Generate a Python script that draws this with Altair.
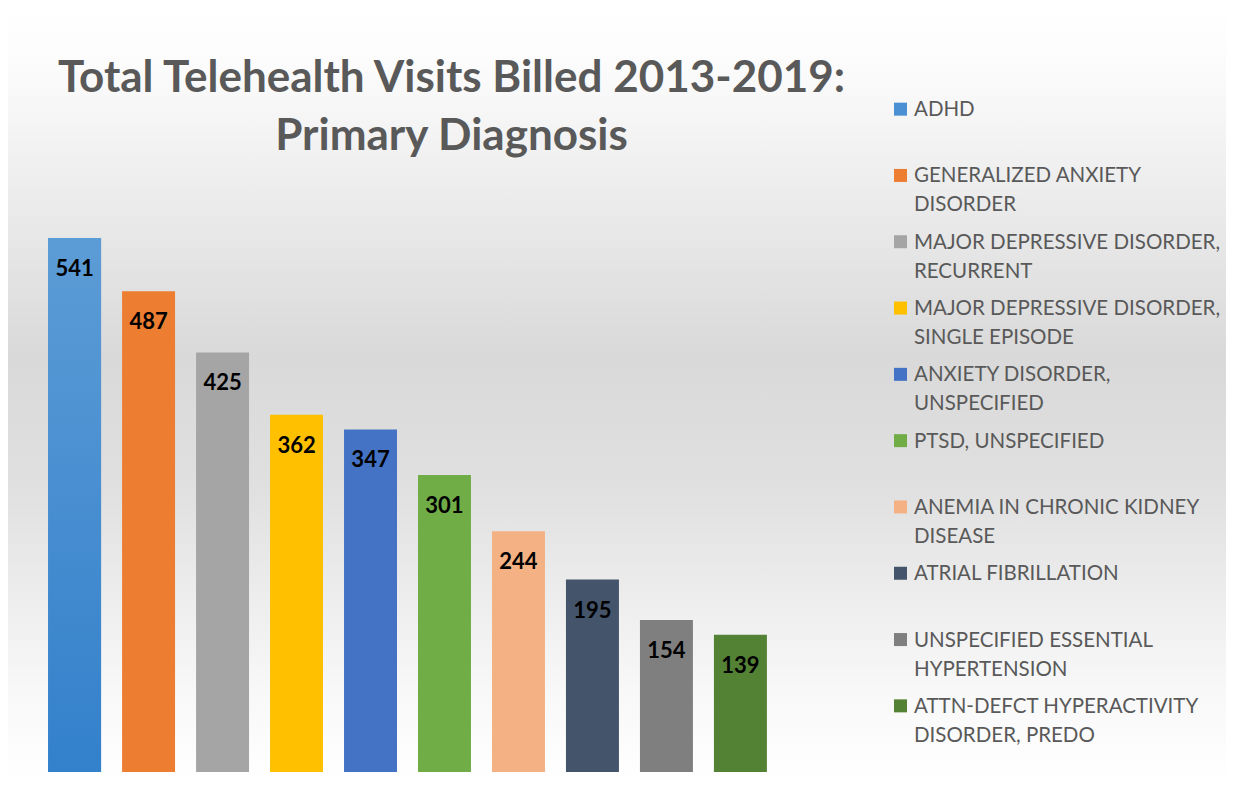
import altair as alt
import pandas as pd

categories = [
    "ADHD",
    "GENERALIZED ANXIETY\nDISORDER",
    "MAJOR DEPRESSIVE DISORDER,\nRECURRENT",
    "MAJOR DEPRESSIVE DISORDER,\nSINGLE EPISODE",
    "ANXIETY DISORDER,\nUNSPECIFIED",
    "PTSD, UNSPECIFIED",
    "ANEMIA IN CHRONIC KIDNEY\nDISEASE",
    "ATRIAL FIBRILLATION",
    "UNSPECIFIED ESSENTIAL\nHYPERTENSION",
    "ATTN-DEFCT HYPERACTIVITY\nDISORDER, PREDO",
]
visits = [541, 487, 425, 362, 347, 301, 244, 195, 154, 139]
colors = ["#4a90d3", "#ed7d31", "#a5a5a5", "#ffc000", "#4472c4",
          "#70ad47", "#f4b183", "#44546a", "#7f7f7f", "#548235"]
title_lines = ["Total Telehealth Visits Billed 2013-2019:", "Primary Diagnosis"]

df = pd.DataFrame({"cat": categories, "visits": visits})
bg = pd.DataFrame({"k": [0]})

grad = alt.LinearGradient(
    gradient="linear", x1=0, x2=0, y1=0, y2=1,
    stops=[
        alt.GradientStop(offset=0.0, color="#ffffff"),
        alt.GradientStop(offset=0.08, color="#fbfbfb"),
        alt.GradientStop(offset=0.45, color="#d9d9d9"),
        alt.GradientStop(offset=0.62, color="#e0e0e0"),
        alt.GradientStop(offset=0.88, color="#f8f8f8"),
        alt.GradientStop(offset=1.0, color="#ffffff"),
    ],
)
adhd_grad = alt.LinearGradient(
    gradient="linear", x1=0, x2=0, y1=0, y2=1,
    stops=[
        alt.GradientStop(offset=0.0, color="#5c9cd6"),
        alt.GradientStop(offset=1.0, color="#3380cb"),
    ],
)

color_scale = alt.Scale(domain=categories, range=colors)

PLOT_W, PLOT_H = 741, 534
LEFT_EXT = 843          # background of the left panel reaches the legend column
LEG_W = 346
TOP, BOTTOM = -230, 545  # background span relative to the plot origin

bg_left = alt.Chart(bg).mark_rect(fill=grad, strokeWidth=0).encode(
    x=alt.value(-29), x2=alt.value(LEFT_EXT), y=alt.value(TOP), y2=alt.value(BOTTOM)
)

base = alt.Chart(df).encode(
    x=alt.X("cat:N", sort=categories, axis=None,
            scale=alt.Scale(paddingInner=0.284, paddingOuter=0.15)),
    y=alt.Y("visits:Q", axis=None, scale=alt.Scale(domain=[0, 541], nice=False, zero=True)),
)

bars = base.mark_bar().encode(color=alt.Color("cat:N", scale=color_scale, legend=None))
adhd_bar = base.mark_bar(fill=adhd_grad).transform_filter(
    alt.datum.cat == categories[0]
)
labels = base.mark_text(
    baseline="alphabetic", align="center", dy=38, font="Lato",
    fontWeight="bold", fontSize=22, color="#000000",
).encode(text=alt.Text("visits:Q"))

left = alt.layer(bg_left, bars, adhd_bar, labels).properties(
    width=PLOT_W, height=PLOT_H,
    title=alt.TitleParams(
        text=title_lines, font="Lato", fontSize=44, fontWeight="bold",
        color="#595959", anchor="middle", dx=44, offset=-151, lineHeight=58,
    ),
)

bg_right = alt.Chart(bg).mark_rect(fill=grad, strokeWidth=0).encode(
    x=alt.value(0), x2=alt.value(LEG_W), y=alt.value(TOP), y2=alt.value(BOTTOM)
)

leg_base = alt.Chart(df).encode(
    y=alt.Y("cat:N", sort=categories, axis=None,
            scale=alt.Scale(type="band", paddingInner=0, paddingOuter=0,
                            range=[-162, 501])),
)
leg_sq = leg_base.mark_square(size=169, filled=True, opacity=1).encode(
    x=alt.value(20.5),
    color=alt.Color("cat:N", scale=color_scale, legend=None),
)
leg_txt = leg_base.mark_text(
    align="left", baseline="alphabetic", dy=7, lineBreak="\n", lineHeight=29,
    font="Lato", fontSize=20.5, color="#595959",
).encode(x=alt.value(34), text="cat:N")

right = alt.layer(bg_right, leg_sq, leg_txt).properties(width=LEG_W, height=PLOT_H)

chart = alt.hconcat(left, right, spacing=0).properties(
    padding=0, background="#ffffff"
).configure_view(strokeWidth=0)

chart.save("out.html", embed_options={"renderer": "svg", "actions": False})
